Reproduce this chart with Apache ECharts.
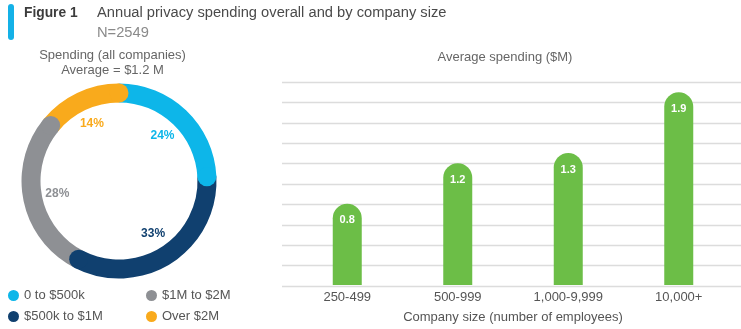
<!DOCTYPE html>
<html>
<head>
<meta charset="utf-8">
<script src="https://cdn.jsdelivr.net/npm/echarts@6/dist/echarts.min.js"></script>
<style>
  html, body { margin: 0; padding: 0; background: #ffffff; }
  #chart { width: 741px; height: 329px; }
</style>
</head>
<body>
<div id="chart"></div>
<script>
// Spending share by band (all companies), percent
const shareLabels = ['0 to $500k', '$500k to $1M', '$1M to $2M', 'Over $2M'];
const shareValues = [24, 33, 28, 14];
const shareColors = ['#0db6e9', '#10406f', '#8e9094', '#f9aa1c'];

// Average spending by company size, $M
const sizeCategories = ['250-499', '500-999', '1,000-9,999', '10,000+'];
const avgSpending = [0.8, 1.2, 1.3, 1.9];

// Value-axis range for the bar panel
const spendMin = 0;
const spendMax = 2;
const spendStep = 0.2;

const FONT = '"Liberation Sans", Arial, sans-serif';
const GREEN = '#6cbe47';

// cumulative end position of each ring segment (for its rounded end cap)
const segmentEnds = [];
shareValues.reduce((acc, v, i) => { segmentEnds[i] = acc + v; return acc + v; }, 0);
const shareTotal = segmentEnds[segmentEnds.length - 1];

const RING_CENTER = [119, 181];
const RING_INNER = 78.5;
const RING_OUTER = 97.5;

// legend grid: two columns, two rows
const legendSlots = [
  { left: 8, top: 289 },   // 0 to $500k
  { left: 8, top: 310 },   // $500k to $1M
  { left: 146, top: 289 }, // $1M to $2M
  { left: 146, top: 310 }  // Over $2M
];

const chart = echarts.init(document.getElementById('chart'), null, { renderer: 'canvas' });

const option = {
  animation: false,
  textStyle: { fontFamily: FONT },
  graphic: [
    { type: 'rect', left: 8, top: 4, shape: { width: 6, height: 36, r: 3 }, style: { fill: '#14b1e7' } },
    { type: 'text', left: 24, top: 6, style: { text: 'Figure 1', font: 'bold 13.8px ' + FONT, fill: '#3c3c3c' } },
    { type: 'text', left: 97, top: 5, style: { text: 'Annual privacy spending overall and by company size', font: '14.7px ' + FONT, fill: '#4a4a4a' } },
    { type: 'text', left: 97, top: 25, style: { text: 'N=2549', font: '14.7px ' + FONT, fill: '#8a8a8a' } },
    { type: 'text', x: 112.5, y: 55, style: { text: 'Spending (all companies)', font: '13px ' + FONT, fill: '#666666', align: 'center', verticalAlign: 'middle' } },
    { type: 'text', x: 112.5, y: 70, style: { text: 'Average = $1.2 M', font: '13px ' + FONT, fill: '#666666', align: 'center', verticalAlign: 'middle' } },
    { type: 'text', x: 505, y: 57, style: { text: 'Average spending ($M)', font: '13px ' + FONT, fill: '#666666', align: 'center', verticalAlign: 'middle' } }
  ],
  legend: shareLabels.map((n, i) => ({
    data: [n],
    left: legendSlots[i].left, top: legendSlots[i].top, padding: 0,
    itemWidth: 11, itemHeight: 11, itemGap: 0, icon: 'circle', selectedMode: false,
    textStyle: { fontSize: 13, color: '#555555', fontFamily: FONT }
  })),
  polar: { center: RING_CENTER, radius: RING_OUTER },
  angleAxis: { type: 'value', min: 0, max: shareTotal, startAngle: 90, clockwise: true, show: false },
  radiusAxis: { type: 'value', min: 0, max: RING_OUTER, show: false },
  grid: [
    { left: 282, right: 0, top: 82, bottom: 43 },
    { left: 292, right: 7, top: 82, bottom: 43 }
  ],
  xAxis: [
    { gridIndex: 0, type: 'value', show: false, min: 0, max: 1 },
    {
      gridIndex: 1, type: 'category', data: sizeCategories,
      axisLine: { show: false }, axisTick: { show: false },
      axisLabel: { fontSize: 13, color: '#555555', margin: 6, fontFamily: FONT },
      name: 'Company size (number of employees)', nameLocation: 'middle', nameGap: 26,
      nameTextStyle: { fontSize: 13, color: '#555555', fontFamily: FONT }
    }
  ],
  yAxis: [
    {
      gridIndex: 0, type: 'value', min: spendMin, max: spendMax, interval: spendStep,
      axisLine: { show: false }, axisTick: { show: false }, axisLabel: { show: false },
      splitLine: { show: true, lineStyle: { color: '#dcdcdc', width: 1.3 } }
    },
    {
      gridIndex: 1, type: 'value', min: spendMin, max: spendMax, interval: spendStep,
      show: false, splitLine: { show: false }
    }
  ],
  series: [
    {
      type: 'pie', name: 'ring',
      center: RING_CENTER, radius: [RING_INNER, RING_OUTER],
      startAngle: 90, clockwise: true, silent: true, z: 1,
      label: { show: false }, labelLine: { show: false },
      data: shareLabels.map((n, i) => ({ name: n, value: shareValues[i], itemStyle: { color: shareColors[i] } }))
    },
    {
      // transparent twin ring that carries the percentage labels inside the donut
      type: 'pie', name: 'labels',
      center: RING_CENTER, radius: [40, 80],
      startAngle: 90, clockwise: true, silent: true, z: 2,
      itemStyle: { color: 'rgba(0,0,0,0)' },
      labelLine: { show: false },
      data: shareLabels.map((n, i) => ({
        name: n, value: shareValues[i],
        itemStyle: { color: 'rgba(0,0,0,0)' },
        label: {
          show: true, position: 'inside', formatter: '{c}%',
          color: shareColors[i], fontWeight: 'bold', fontSize: 12, fontFamily: FONT
        }
      }))
    },
    {
      // rounded end caps of the ring segments
      type: 'scatter', coordinateSystem: 'polar', silent: true, z: 3,
      symbol: 'circle', symbolSize: RING_OUTER - RING_INNER,
      itemStyle: { opacity: 1 },
      data: segmentEnds.map((e, i) => ({
        value: [(RING_INNER + RING_OUTER) / 2, e],
        itemStyle: { color: shareColors[i], opacity: 1 }
      }))
    },
    {
      type: 'bar', xAxisIndex: 1, yAxisIndex: 1,
      data: avgSpending, barWidth: 29,
      itemStyle: { color: GREEN, borderRadius: [14.5, 14.5, 0, 0] },
      label: {
        show: true, position: 'insideTop', distance: 11,
        color: '#ffffff', fontWeight: 'bold', fontSize: 11, fontFamily: FONT,
        formatter: (p) => p.value.toFixed(1)
      }
    }
  ]
};

chart.setOption(option);
</script>
</body>
</html>
